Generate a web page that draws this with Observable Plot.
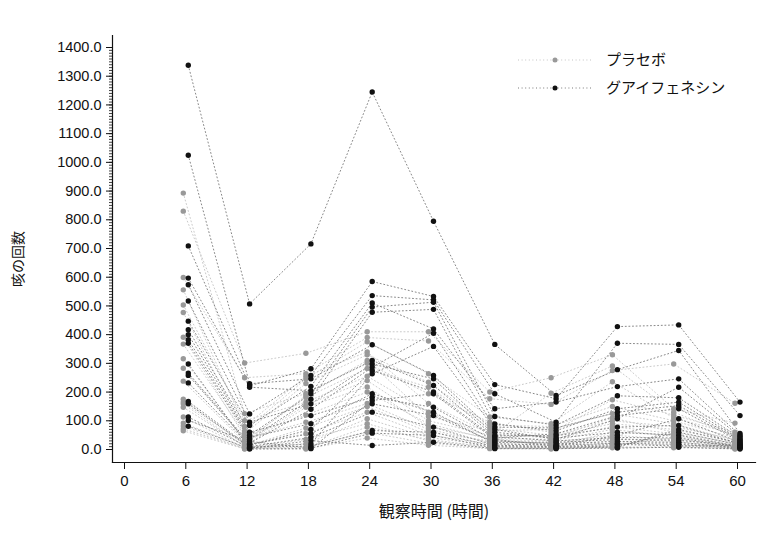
<!DOCTYPE html>
<html>
<head>
<meta charset="utf-8">
<script src="https://cdn.jsdelivr.net/npm/d3@7"></script>
<script src="https://cdn.jsdelivr.net/npm/@observablehq/plot@0.6"></script>
<style>
  body { margin: 0; background: #fff; }
  #wrap { position: relative; width: 768px; height: 536px; }
  #wrap svg.legend { position: absolute; left: 0; top: 0; }
  g[aria-label="x-axis tick label"] text { font-family: "Liberation Sans Narrow", "Liberation Sans", sans-serif; font-stretch: condensed; }
</style>
</head>
<body>
<div id="wrap"></div>
<script>
const times = [6, 12, 18, 24, 30, 36, 42, 48, 54, 60];
const xTicks = [0, 6, 12, 18, 24, 30, 36, 42, 48, 54, 60];
const groupNames = ["プラセボ", "グアイフェネシン"];
const xLabel = "観察時間 (時間)";
const yLabel = "咳の回数";

// Placebo, one value per subject (same subject order in every array)
const placebo6  = [893, 830, 599, 556, 503, 477, 391, 367, 316, 283, 238, 175, 165, 159, 147, 113, 92, 82, 72, 65];
const placebo12 = [125, 301, 250, 80, 100, 65, 45, 55, 30, 38, 25, 16, 20, 10, 12, 6, 8, 3, 4, 2];
const placebo18 = [195, 335, 264, 255, 165, 246, 120, 230, 181, 95, 188, 55, 155, 75, 147, 35, 20, 8, 5, 2];
const placebo24 = [300, 410, 390, 340, 255, 375, 200, 330, 282, 160, 310, 130, 240, 150, 218, 90, 107, 60, 78, 40];
const placebo30 = [194, 410, 378, 160, 130, 264, 90, 234, 217, 70, 115, 50, 100, 60, 80, 30, 42, 22, 35, 15];
const placebo36 = [95, 200, 177, 55, 45, 113, 35, 85, 75, 25, 65, 20, 50, 30, 40, 10, 15, 5, 8, 3];
const placebo42 = [60, 250, 157, 40, 196, 90, 30, 80, 50, 20, 70, 15, 45, 25, 35, 10, 12, 4, 6, 2];
const placebo48 = [173, 330, 275, 110, 291, 236, 70, 150, 100, 40, 125, 30, 90, 50, 80, 22, 60, 10, 15, 6];
const placebo54 = [120, 142, 298, 60, 130, 110, 45, 100, 80, 28, 90, 22, 70, 35, 55, 15, 50, 6, 40, 10];
const placebo60 = [60, 92, 161, 22, 46, 52, 16, 40, 35, 10, 30, 8, 26, 14, 19, 5, 12, 2, 6, 3];

// Guaifenesin
const guai6  = [1338, 1025, 709, 597, 574, 517, 447, 417, 400, 382, 370, 298, 266, 258, 232, 167, 159, 113, 101, 81];
const guai12 = [507, 229, 222, 217, 124, 95, 84, 60, 50, 42, 35, 4, 22, 18, 14, 10, 8, 6, 28, 2];
const guai18 = [716, 246, 281, 205, 258, 159, 220, 118, 194, 90, 175, 31, 140, 55, 70, 42, 12, 20, 5, 3];
const guai24 = [1245, 365, 585, 310, 536, 298, 510, 182, 496, 194, 478, 14, 287, 159, 275, 130, 66, 264, 57, 171];
const guai30 = [795, 258, 533, 223, 521, 246, 420, 147, 513, 130, 488, 25, 405, 118, 200, 78, 60, 359, 49, 194];
const guai36 = [366, 60, 226, 45, 194, 50, 142, 30, 115, 20, 89, 3, 78, 25, 40, 15, 10, 70, 5, 35];
const guai42 = [188, 40, 177, 30, 95, 48, 165, 20, 85, 15, 65, 3, 75, 25, 55, 10, 8, 35, 5, 12];
const guai48 = [278, 60, 428, 42, 370, 78, 219, 28, 187, 22, 142, 5, 130, 35, 118, 18, 12, 107, 8, 50];
const guai54 = [345, 50, 434, 40, 366, 84, 246, 25, 180, 18, 165, 8, 153, 32, 142, 12, 60, 217, 70, 107];
const guai60 = [56, 10, 165, 8, 118, 19, 50, 6, 40, 4, 36, 2, 32, 12, 28, 14, 16, 45, 22, 25];

const placeboCols = [placebo6, placebo12, placebo18, placebo24, placebo30, placebo36, placebo42, placebo48, placebo54, placebo60];
const guaiCols = [guai6, guai12, guai18, guai24, guai30, guai36, guai42, guai48, guai54, guai60];

function toRows(cols, group) {
  const rows = [];
  cols[0].forEach((_, i) => {
    times.forEach((t, j) => rows.push({group, id: group + i, t, v: cols[j][i]}));
  });
  return rows;
}
const placeboRows = toRows(placeboCols, groupNames[0]);
const guaiRows = toRows(guaiCols, groupNames[1]);

const fmt = d3.format(".1f");
const dash = "1,2.6";

const chart = Plot.plot({
  width: 768,
  height: 536,
  marginLeft: 112,
  marginRight: 13,
  marginTop: 35,
  marginBottom: 74,
  style: {fontFamily: "'Liberation Sans', Arial, sans-serif", fontSize: "14px", color: "#111", background: "#fff"},
  x: {domain: [0, 60], insetLeft: 12, insetRight: 18},
  y: {domain: [0, 1400], insetTop: 12, insetBottom: 13},
  marks: [
    Plot.axisY({ticks: d3.range(0, 1401, 10), tickSize: 3, text: null, label: null, strokeWidth: 0.8}),
    Plot.axisY({ticks: d3.range(0, 1401, 100), tickSize: 6, tickPadding: 5, tickFormat: fmt, label: null, fontSize: 14.5}),
    Plot.axisX({ticks: xTicks, tickSize: 7, tickPadding: 6, label: null, fontSize: 15}),
    Plot.frame({anchor: "left", strokeWidth: 1.2}),
    Plot.frame({anchor: "bottom", strokeWidth: 1.2}),
    Plot.line(placeboRows, {x: "t", y: "v", z: "id", stroke: "#c4c4c4", strokeWidth: 0.9, strokeDasharray: dash, dx: -2.5}),
    Plot.line(guaiRows, {x: "t", y: "v", z: "id", stroke: "#7a7a7a", strokeWidth: 0.9, strokeDasharray: dash, dx: 2.5}),
    Plot.dot(placeboRows, {x: "t", y: "v", r: 2.7, fill: "#999", stroke: null, dx: -2.5}),
    Plot.dot(guaiRows, {x: "t", y: "v", r: 2.7, fill: "#111", stroke: null, dx: 2.5}),
    Plot.text([xLabel], {frameAnchor: "bottom", dy: 54, fontSize: 16, fontFamily: "'Noto Sans CJK JP', sans-serif", textAnchor: "middle"}),
    Plot.text([yLabel], {frameAnchor: "left", rotate: -90, dx: -94, dy: 10, fontSize: 14, fontFamily: "'Noto Sans CJK JP', sans-serif", textAnchor: "middle"})
  ]
});

const wrap = document.getElementById("wrap");
wrap.appendChild(chart);

// Legend overlay (inside plot area, top right)
const leg = d3.select(wrap).append("svg").attr("class", "legend")
  .attr("width", 768).attr("height", 536)
  .style("pointer-events", "none");
const legItems = [
  {name: groupNames[0], line: "#c4c4c4", dot: "#999", y: 60},
  {name: groupNames[1], line: "#7a7a7a", dot: "#111", y: 88}
];
legItems.forEach(d => {
  leg.append("line").attr("x1", 518).attr("x2", 592).attr("y1", d.y).attr("y2", d.y)
    .attr("stroke", d.line).attr("stroke-dasharray", dash);
  leg.append("circle").attr("cx", 555).attr("cy", d.y).attr("r", 2.5).attr("fill", d.dot);
  leg.append("text").attr("x", 606).attr("y", d.y).attr("dy", "0.35em")
    .attr("font-family", "'Noto Sans CJK JP', sans-serif").attr("font-size", 15).attr("fill", "#111")
    .text(d.name);
});
</script>
</body>
</html>
